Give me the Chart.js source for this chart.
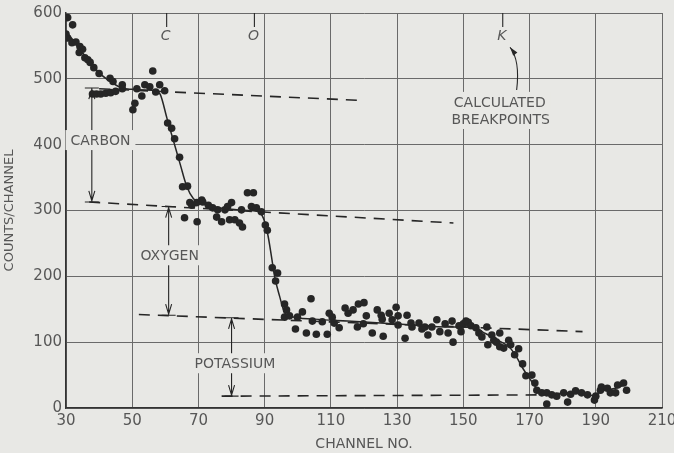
<!DOCTYPE html>
<html>
<head>
<meta charset="utf-8">
<script src="https://cdn.jsdelivr.net/npm/chart.js@4.4.1/dist/chart.umd.min.js"></script>
<style>
  body { margin: 0; background: #e8e8e5; }
  canvas { display: block; }
</style>
</head>
<body>
<canvas id="espectro" width="674" height="453"></canvas>
<script>
// Puntos medidos (canal, cuentas)
const channels = [
  30.5, 32, 30, 30.5, 31.8, 33, 34.2, 34, 35, 35.7, 36.6, 37.3, 38.4, 40, 43.3, 44.2, 47, 47,
  38, 39.2, 40.5, 42, 43.5, 45,
  50.2, 50.8, 51.4, 52.9, 53.8, 55.3, 56.2, 57.1, 58.3, 59.8,
  60.7, 61.9, 62.8, 64.3, 65.2, 66.7,
  65.8, 67.4, 68, 69.5, 69.6, 71, 71.3, 73, 74.3, 75.5, 75.8, 77, 78, 78.8, 79.4, 80, 81, 82.4, 83, 83.3, 84.8, 86, 86.6, 87.5, 89, 90.2, 90.8,
  92.3, 93.3, 93.9, 96, 96.6, 96, 97.5,
  99.3, 99.9, 101.4, 102.6, 104, 104.4, 105.6, 107.4, 108.9, 109.5, 110.4, 111, 112.5, 114.3, 115.2, 116.7, 118, 118.3, 119.8, 120, 120.7, 122.5,
  124, 125.2, 125.5, 125.8, 127.6, 128.5, 129.7, 130.3, 130.3, 132.4, 133, 134.2, 134.5, 136.6, 137.5, 138.4, 139.3, 140.5, 142, 142.9, 144.5, 145.4,
  146.6, 146.9, 148.7, 149.3, 150, 150.8, 151.5, 152.3, 153.8, 154.7, 155.6, 157.1, 157.4, 158.6, 159.2, 160, 161, 161,
  162.2, 163.7, 164.3, 165.5, 166.7, 167.9, 168.9, 170.7, 171.6, 172.2, 173.7,
  175.2, 175.2, 176.7, 178.2, 180.3, 181.5, 182.4, 183.9, 185.7, 187.5, 189.6, 190, 191.4, 191.7, 193.5, 194.4, 196, 196.6, 198.4, 199.3
];
const counts = [
  593, 582, 568, 562, 555, 556, 549, 540, 545, 532, 529, 525, 517, 508, 501, 496, 491, 485,
  477, 477, 477, 478, 479, 481,
  453, 463, 485, 474, 491, 488, 512, 480, 491, 482,
  433, 425, 409, 381, 336, 337,
  289, 312, 308, 312, 283, 316, 313, 308, 304, 290, 301, 283, 301, 306, 286, 312, 286, 281, 301, 275, 327, 306, 327, 304, 298, 278, 270,
  213, 193, 205, 158, 149, 138, 140,
  120, 138, 146, 114, 166, 132, 112, 131, 112, 144, 138, 129, 122, 152, 144, 149, 123, 158, 128, 160, 140, 114,
  149, 141, 135, 109, 144, 134, 153, 140, 126, 106, 141, 129, 123, 129, 120, 123, 111, 123, 134, 116, 128, 114,
  132, 100, 125, 116, 128, 132, 130, 125, 122, 114, 108, 123, 96, 111, 103, 100, 114, 93,
  91, 103, 96, 81, 90, 67, 49, 50, 38, 27, 23,
  6, 23, 20, 18, 23, 9, 21, 26, 23, 20, 12, 18, 27, 32, 30, 23, 23, 35, 38, 27
];

// Curva suavizada a mano
const fitChannels = [30, 33, 36, 40, 44, 47, 50, 54, 57, 58.5, 60.5, 62.5, 64.5, 66.5, 68.5, 71, 75, 80, 85, 88.5,
  90, 91, 92, 93, 94.5, 96, 98, 105, 115, 125, 135, 145, 150, 153, 156, 160, 164, 166, 168, 170,
  172, 174, 177, 181, 185, 189, 192, 196, 199];
const fitCounts = [572, 553, 533, 509, 494, 486, 484, 483, 482, 476, 440, 405, 370, 336, 318, 311, 305, 302, 300, 297,
  283, 262, 232, 200, 170, 145, 139, 135, 132, 129, 126, 123, 123, 123, 115, 104, 92, 78, 60, 45,
  31, 23, 21, 23, 22, 19, 26, 30, 36];

// Lineas base extrapoladas (discontinuas)
const carbonBaseX = [40, 120], carbonBaseY = [485, 467];
const oxygenBaseX = [37, 147], oxygenBaseY = [313, 281];
const potassiumBaseX = [52, 186], potassiumBaseY = [142, 116];
const bottomBaseX = [77, 178], bottomBaseY = [18, 20];

// Flechas de salto y sus rotulos
const stepNames = ['CARBON', 'OXYGEN', 'POTASSIUM'];
const stepChannel = [37.8, 61, 80];
const stepTop = [486, 306, 137];
const stepBottom = [313, 141, 18];
const stepLabelChannel = [40.4, 61.3, 81];
const stepLabelCount = [407, 232, 68];

// Puntos de quiebre calculados
const breakNames = ['C', 'O', 'K'];
const breakChannel = [60.4, 86.9, 161.9];

const xTicks = [30, 50, 70, 90, 110, 130, 150, 170, 190, 210];
const yTicks = [0, 100, 200, 300, 400, 500, 600];

const BG = '#e8e8e5';
const INK = '#262626';
const TEXT = '#575757';

const zip = (xs, ys) => xs.map((x, i) => ({ x: x, y: ys[i] }));

function dashed(xs, ys) {
  return {
    type: 'line',
    data: zip(xs, ys),
    borderColor: INK,
    borderWidth: 1.6,
    borderDash: [11, 8],
    pointRadius: 0,
    fill: false
  };
}

const notes = {
  id: 'notes',
  afterDatasetsDraw(chart) {
    const ctx = chart.ctx;
    const sx = chart.scales.x, sy = chart.scales.y;
    const area = chart.chartArea;
    ctx.save();
    ctx.strokeStyle = INK;
    ctx.lineWidth = 1.1;

    // flechas dobles
    stepChannel.forEach((ch, i) => {
      const x = sx.getPixelForValue(ch);
      const y1 = sy.getPixelForValue(stepTop[i]);
      const y2 = sy.getPixelForValue(stepBottom[i]);
      ctx.beginPath();
      ctx.moveTo(x, y1); ctx.lineTo(x, y2);
      ctx.moveTo(x - 7, y1); ctx.lineTo(x + 7, y1);
      ctx.moveTo(x - 7, y2); ctx.lineTo(x + 7, y2);
      ctx.moveTo(x - 3, y1 + 11); ctx.lineTo(x, y1 + 1); ctx.lineTo(x + 3, y1 + 11);
      ctx.moveTo(x - 3, y2 - 11); ctx.lineTo(x, y2 - 1); ctx.lineTo(x + 3, y2 - 11);
      ctx.stroke();
    });

    ctx.font = '14px "DejaVu Sans"';
    ctx.textAlign = 'center';
    ctx.textBaseline = 'middle';
    function label(t, ch, val) {
      const x = sx.getPixelForValue(ch), y = sy.getPixelForValue(val);
      const w = ctx.measureText(t).width;
      ctx.fillStyle = BG;
      ctx.fillRect(x - w / 2 - 5, y - 10, w + 10, 20);
      ctx.fillStyle = TEXT;
      ctx.fillText(t, x, y + 1);
    }
    stepNames.forEach((t, i) => label(t, stepLabelChannel[i], stepLabelCount[i]));
    label('CALCULATED', 161, 465);
    label('BREAKPOINTS', 161.3, 439);

    // marcas de quiebre arriba
    breakChannel.forEach((ch, i) => {
      const x = sx.getPixelForValue(ch);
      ctx.beginPath();
      ctx.moveTo(x, area.top); ctx.lineTo(x, area.top + 14);
      ctx.stroke();
      ctx.font = 'italic 14px "DejaVu Sans"';
      ctx.fillStyle = TEXT;
      ctx.fillText(breakNames[i], x - 1, area.top + 23);
    });

    // flecha curva hacia K
    const ax = sx.getPixelForValue(166.1), ay = sy.getPixelForValue(483);
    const cx = sx.getPixelForValue(167.2), cy = sy.getPixelForValue(528);
    const bx = sx.getPixelForValue(164.1), by = sy.getPixelForValue(548);
    ctx.beginPath();
    ctx.moveTo(ax, ay);
    ctx.quadraticCurveTo(cx, cy, bx, by);
    ctx.stroke();
    const ang = Math.atan2(by - cy, bx - cx);
    ctx.fillStyle = INK;
    ctx.beginPath();
    ctx.moveTo(bx, by);
    ctx.lineTo(bx - 9 * Math.cos(ang - 0.3), by - 9 * Math.sin(ang - 0.3));
    ctx.lineTo(bx - 9 * Math.cos(ang + 0.3), by - 9 * Math.sin(ang + 0.3));
    ctx.closePath();
    ctx.fill();
    ctx.restore();
  }
};

Chart.defaults.font.family = '"DejaVu Sans", sans-serif';

new Chart(document.getElementById('espectro'), {
  type: 'scatter',
  data: {
    datasets: [
      {
        type: 'line',
        data: zip(fitChannels, fitCounts),
        borderColor: INK,
        borderWidth: 1.5,
        cubicInterpolationMode: 'monotone',
        pointRadius: 0,
        fill: false
      },
      dashed(carbonBaseX, carbonBaseY),
      dashed(oxygenBaseX, oxygenBaseY),
      dashed(potassiumBaseX, potassiumBaseY),
      dashed(bottomBaseX, bottomBaseY),
      {
        data: zip(channels, counts),
        backgroundColor: INK,
        borderColor: INK,
        pointRadius: 3.8,
        pointBorderWidth: 0
      }
    ]
  },
  options: {
    responsive: false,
    animation: false,
    devicePixelRatio: 1,
    layout: { padding: { top: 13, right: 12, left: 0, bottom: 0 } },
    plugins: { legend: { display: false }, tooltip: { enabled: false } },
    scales: {
      x: {
        type: 'linear',
        min: 30,
        max: 210,
        afterBuildTicks: s => { s.ticks = xTicks.map(v => ({ value: v })); },
        afterFit: s => { s.height = 45; s.paddingLeft = 0; s.paddingRight = 0; },
        grid: { color: '#6a6a6a', lineWidth: 1, drawTicks: false },
        border: { color: '#333', width: 1.5 },
        ticks: { color: TEXT, font: { size: 15 }, padding: 4 },
        title: { display: true, text: 'CHANNEL NO.', color: TEXT, font: { size: 14 }, padding: 0 }
      },
      y: {
        min: 0,
        max: 600,
        afterBuildTicks: s => { s.ticks = yTicks.map(v => ({ value: v })); },
        afterFit: s => { s.width = 66; s.paddingTop = 0; s.paddingBottom = 0; },
        grid: { color: '#6a6a6a', lineWidth: 1, drawTicks: false },
        border: { color: '#333', width: 1.5 },
        ticks: { color: TEXT, font: { size: 15 }, padding: 4 },
        title: { display: true, text: 'COUNTS/CHANNEL', color: TEXT, font: { size: 13 }, padding: { top: 2, bottom: 0 } }
      }
    }
  },
  plugins: [notes]
});
</script>
</body>
</html>
